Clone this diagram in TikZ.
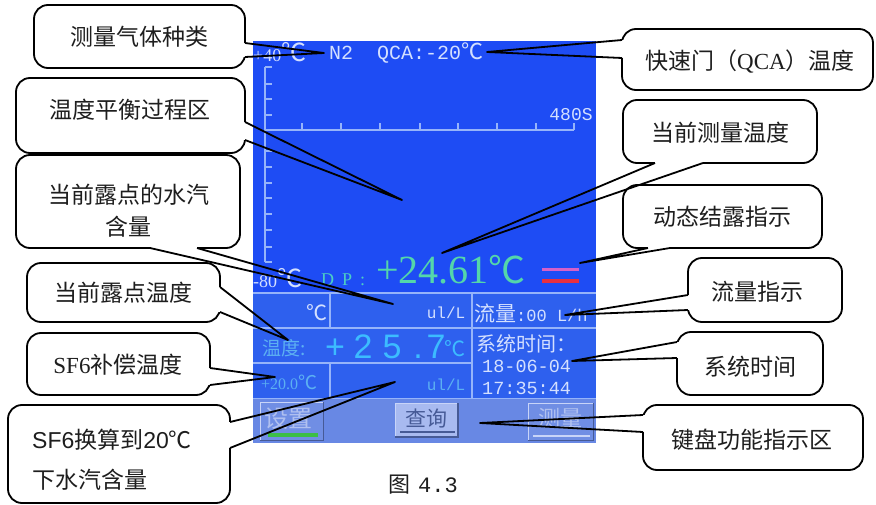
\documentclass[tikz,border=0pt]{standalone}
\usepackage{fontspec}
\setmainfont{Liberation Serif}
\newfontfamily\cjk{Noto Sans CJK SC}
\newfontfamily\lmono{Liberation Mono}
\newfontfamily\lsans{Liberation Sans}
\newcommand\fs[1]{\fontsize{#1}{#1}\selectfont}
\definecolor{scrblue}{RGB}{30,76,244}
\definecolor{tblblue}{RGB}{46,96,238}
\definecolor{barc}{RGB}{104,136,228}
\definecolor{gridc}{RGB}{150,180,250}
\definecolor{txtw}{RGB}{212,224,255}
\definecolor{txtg}{RGB}{84,214,170}
\definecolor{txtdp}{RGB}{76,206,196}
\definecolor{txtc}{RGB}{60,188,255}
\definecolor{txtc2}{RGB}{92,176,242}
\definecolor{btnface}{RGB}{112,142,228}
\definecolor{btnlite}{RGB}{168,186,240}
\definecolor{btntxt}{RGB}{176,192,240}
\definecolor{btnhi}{RGB}{200,212,248}
\definecolor{btnsh}{RGB}{70,90,150}
\definecolor{ctxt}{RGB}{30,30,30}
% pointer macros: node, base1, base2, tip
\newcommand\ptrE[4]{\draw[erase] (#1.east |- 0,#2) -- (#1.east |- 0,#3);
  \draw[ptr] (#1.east |- 0,#2) -- (#4) -- (#1.east |- 0,#3);}
\newcommand\ptrW[4]{\draw[erase] (#1.west |- 0,#2) -- (#1.west |- 0,#3);
  \draw[ptr] (#1.west |- 0,#2) -- (#4) -- (#1.west |- 0,#3);}
\newcommand\ptrS[4]{\draw[erase] (#2,0 |- #1.south) -- (#3,0 |- #1.south);
  \draw[ptr] (#2,0 |- #1.south) -- (#4) -- (#3,0 |- #1.south);}
\begin{document}
\begin{tikzpicture}[x=1pt,y=-1pt,
  callbox/.style={draw=black, line width=1.8pt, fill=white, rounded corners=14pt, inner sep=0pt, outer sep=0pt},
  ctext/.style={inner sep=0pt, text=ctxt, font=\cjk\fs{23}},
  ptr/.style={line width=1.8pt, line join=round, black},
  erase/.style={white, line width=3.6pt},
  scrtxt/.style={inner sep=0pt, anchor=west},
  axisl/.style={gridc, line width=1.3pt},
  gridl/.style={gridc, line width=1.2pt}]
\useasboundingbox (0,0) rectangle (876,505);

% ---------------- screen ----------------
\begin{scope}
\clip (253,41) rectangle (596,443);
\fill[scrblue] (253,41) rectangle (596,443);
% chart axes
\draw[axisl] (265,67) -- (265,262);
\foreach \yy in {67,84,99,115,151,167,183,198,214,230,247,262}
  \draw[axisl] (265,\yy) -- (272,\yy);
\draw[axisl] (265,130) -- (574,130);
\foreach \xx in {302,341,380,420,458,497,536,574}
  \draw[axisl] (\xx,130) -- (\xx,123);
\node[scrtxt, text=txtw] (t40) at (253,52) {\fs{18}+40{\cjk\fs{25}℃}};
\node[inner sep=0pt, text=txtw] (n2) at (341,53) {\lmono\fs{20}N2};
\node[scrtxt, text=txtw] (qca) at (377,53) {\lmono\fs{20}QCA:-20{\cjk\fs{22}℃}};
\node[inner sep=0pt, text=txtw] (s480) at (571,115) {\lmono\fs{18}480S};
\node[scrtxt, text=txtw] (t80) at (253,278) {\fs{18}-80{\cjk\fs{25}℃}};
\node[scrtxt, text=txtdp] (dp) at (321,280) {\fs{18}D\hspace{8pt}P\hspace{8pt}:};
\node[scrtxt, text=txtg] (temp) at (376,270) {\fs{40}+24.61{\cjk\fs{37}℃}};
\draw[line width=3pt, color={rgb,255:red,214;green,96;blue,200}] (542,270) -- (579,270);
\draw[line width=4.5pt, color={rgb,255:red,232;green,48;blue,64}] (542,281) -- (579,281);
% table
\fill[tblblue] (253,293) rectangle (596,399);
\draw[gridl] (253,293) -- (596,293);
\draw[gridl] (253,328) -- (596,328);
\draw[gridl] (253,363) -- (472,363);
\draw[gridl] (253,399) -- (596,399);
\draw[gridl] (330,293) -- (330,328);
\draw[gridl] (330,363) -- (330,399);
\draw[gridl] (472,293) -- (472,399);
\node[inner sep=0pt, text=txtw] (r1c) at (317,313) {\cjk\fs{21}℃};
\node[inner sep=0pt, text=txtw] (r1u) at (446,313) {\lmono\fs{16}ul/L};
\node[scrtxt, text=txtw] (flow) at (474,313) {{\cjk\fs{21}流量}{\lmono\fs{17}:00 L/h}};
\node[scrtxt, text=txtw] (systm) at (476,344) {\cjk\fs{20}系统时间：};
\node[scrtxt, text=txtw] (date) at (482,366) {\lmono\fs{18.5}18-06-04};
\node[scrtxt, text=txtw] (time) at (482,388) {\lmono\fs{18.5}17:35:44};
\node[scrtxt, text=txtc2] (wd) at (262,348) {\cjk\fs{19}温度:};
\begin{scope}[every node/.style={inner sep=0pt, anchor=base, text=txtc, font=\lsans\fs{34}}]
\node (d1) at (335,358) {+};
\node (d2) at (363,358) {2};
\node (d3) at (392,358) {5};
\node (d4) at (418,358) {.};
\node (d5) at (436,358) {7};
\end{scope}
\node[inner sep=0pt, text=txtc] (d6) at (455,349) {\cjk\fs{21}℃};
\node[scrtxt, text=txtc2] (t20) at (261,382) {\fs{16}+20.0{\cjk\fs{19}℃}};
\node[inner sep=0pt, text=txtc2] (r3u) at (446,385) {\lmono\fs{16}ul/L};
% button bar
\fill[barc] (253,399) rectangle (596,443);
\fill[btnface] (260,402) rectangle (323,440);
\draw[btnhi, line width=1pt] (260,440) -- (260,402) -- (323,402);
\draw[btnsh, line width=1pt] (323,402) -- (323,440) -- (260,440);
\node[inner sep=0pt, text=btntxt] (b1t) at (288,419) {\cjk\fs{24}设置};
\draw[line width=4pt, color={rgb,255:red,60;green,190;blue,70}] (268,435) -- (318,435);
\fill[btnlite] (395,403) rectangle (458,437);
\draw[btnhi, line width=1pt] (395,437) -- (395,403) -- (458,403);
\draw[btnsh, line width=1.5pt] (458,403) -- (458,437) -- (395,437);
\node[inner sep=0pt, text=btnsh] (b2t) at (426,418) {\cjk\fs{21}查询};
\draw[btnsh, line width=1.5pt] (400,432) -- (455,432);
\fill[btnface] (528,403) rectangle (593,440);
\draw[btnhi, line width=1pt] (528,440) -- (528,403) -- (593,403);
\draw[btnsh, line width=1pt] (593,403) -- (593,440) -- (528,440);
\node[inner sep=0pt, text=btntxt] (b3t) at (560,418) {\cjk\fs{22}测量};
\draw[btnhi, line width=1.2pt] (533,436) -- (590,436);
\end{scope}

% ---------------- callouts ----------------
\node[callbox, minimum width=211pt, minimum height=63pt] (c1) at (139.5,36.5) {};
\node[ctext] (t1) at (139,37) {测量气体种类};
\node[callbox, minimum width=229pt, minimum height=75pt] (c2) at (130.5,115.5) {};
\node[ctext] (t2) at (130,110) {温度平衡过程区};
\node[callbox, minimum width=224pt, minimum height=93pt] (c3) at (128,201.5) {};
\node[ctext, align=center, font=\cjk\fontsize{23}{32}\selectfont] (t3) at (129,211) {当前露点的水汽\\含量};
\node[callbox, minimum width=193pt, minimum height=59pt] (c4) at (123.5,292.5) {};
\node[ctext] (t4) at (123,293) {当前露点温度};
\node[callbox, minimum width=183pt, minimum height=62pt] (c5) at (118.5,364) {};
\node[ctext] (t5) at (118,365) {{\rmfamily SF6}补偿温度};
\node[callbox, minimum width=222pt, minimum height=98pt] (c6) at (119,454) {};
\node[ctext, anchor=west, align=left, font=\cjk\fontsize{23}{40}\selectfont] (t6) at (32,460) {{\lsans SF6}换算到{\lsans 20}℃\\下水汽含量};
\node[callbox, minimum width=251pt, minimum height=61pt] (c7) at (747.5,59.5) {};
\node[ctext] (t7) at (750,62) {快速门（{\rmfamily QCA}）温度};
\node[callbox, minimum width=194pt, minimum height=63pt] (c8) at (720,131.5) {};
\node[ctext] (t8) at (720,133) {当前测量温度};
\node[callbox, minimum width=199pt, minimum height=63pt] (c9) at (722.5,216.5) {};
\node[ctext] (t9) at (722,217) {动态结露指示};
\node[callbox, minimum width=154pt, minimum height=64pt] (c10) at (765,290) {};
\node[ctext] (t10) at (757,292) {流量指示};
\node[callbox, minimum width=146pt, minimum height=63pt] (c11) at (750,363.5) {};
\node[ctext] (t11) at (750,367) {系统时间};
\node[callbox, minimum width=220pt, minimum height=65pt] (c12) at (753,437.5) {};
\node[ctext] (t12) at (752,440) {键盘功能指示区};

% pointer tips
\coordinate (p1) at (324,53);
\coordinate (p2) at (402,200);
\coordinate (p3) at (393,304);
\coordinate (p4) at (288,340);
\coordinate (p5) at (275,377);
\coordinate (p6) at (395,382);
\coordinate (p7) at (487,52);
\coordinate (p8) at (442,253);
\coordinate (p9) at (580,263);
\coordinate (p10) at (565,315);
\coordinate (p11) at (572,361);
\coordinate (p12) at (480,423);

\ptrE{c1}{43}{57}{p1}
\ptrE{c2}{122}{140}{p2}
\ptrS{c3}{150}{197}{p3}
\ptrE{c4}{287}{312}{p4}
\ptrE{c5}{368}{385}{p5}
\ptrE{c6}{422}{448}{p6}
\ptrW{c7}{40}{58}{p7}
\ptrS{c8}{655}{703}{p8}
\ptrS{c9}{648}{670}{p9}
\ptrW{c10}{295}{310}{p10}
\ptrW{c11}{342}{358}{p11}
\ptrW{c12}{415}{432}{p12}

% caption
\node[inner sep=0pt, text=ctxt] (cap) at (423,485) {{\cjk\fs{22}图}\hspace{8pt}{\lmono\fs{22}4.3}};
\end{tikzpicture}
\end{document}
